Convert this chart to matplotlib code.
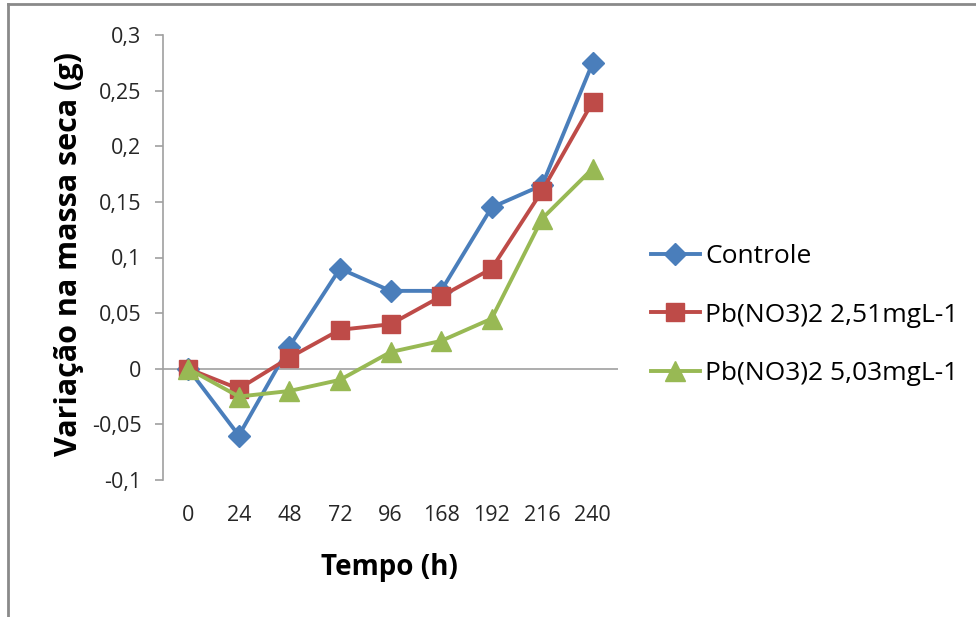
import matplotlib
matplotlib.use("Agg")
import matplotlib.pyplot as plt
from matplotlib.lines import Line2D
import numpy as np

categories = ["0", "24", "48", "72", "96", "168", "192", "216", "240"]
controle = [0.0, -0.06, 0.02, 0.09, 0.07, 0.07, 0.145, 0.165, 0.275]
pb_251 = [0.0, -0.018, 0.01, 0.035, 0.04, 0.065, 0.09, 0.16, 0.24]
pb_503 = [0.0, -0.025, -0.02, -0.01, 0.015, 0.025, 0.045, 0.135, 0.18]
series_names = ["Controle", "Pb(NO3)2 2,51mgL-1", "Pb(NO3)2 5,03mgL-1"]
yticks = [-0.1, -0.05, 0, 0.05, 0.1, 0.15, 0.2, 0.25, 0.3]
ytick_labels = ["-0,1", "-0,05", "0", "0,05", "0,1", "0,15", "0,2", "0,25", "0,3"]

colors = ["#4A7EBB", "#BE4B48", "#98B954"]
markers = ["D", "s", "^"]
msizes = [11, 13, 14]

FONT = ["Open Sans", "DejaVu Sans"]

W, H = 976, 617
fig = plt.figure(figsize=(W / 100, H / 100), dpi=100)

# outer border
fig.add_artist(Line2D([8 / W, 8 / W], [0, 1 - 4 / H], color="#8a8a8a", lw=2, transform=fig.transFigure))
fig.add_artist(Line2D([8 / W, 975 / W], [1 - 4 / H, 1 - 4 / H], color="#8a8a8a", lw=2, transform=fig.transFigure))

left, right = 163 / W, 618 / W
top, bottom = 1 - 35 / H, 1 - 480 / H
ax = fig.add_axes([left, bottom, right - left, top - bottom])

x = np.arange(len(categories))
for vals, c, m, ms, name in zip([controle, pb_251, pb_503], colors, markers, msizes, series_names):
    ax.plot(x, vals, color=c, lw=2.8, marker=m, markersize=ms, label=name, zorder=3)

ax.axhline(0, color="#a0a0a0", lw=1.2, zorder=1)
ax.set_xlim(-0.5, len(categories) - 0.5)
ax.set_ylim(-0.1, 0.3)
ax.set_yticks(yticks)
ax.set_yticklabels(ytick_labels)
ax.set_xticks(x)
ax.set_xticklabels(categories)

for s in ["top", "right", "bottom"]:
    ax.spines[s].set_visible(False)
ax.spines["left"].set_color("#a0a0a0")
ax.spines["left"].set_linewidth(1.2)

ax.tick_params(axis="y", direction="out", length=6, color="#a0a0a0", width=1.2, pad=9.5,
               labelsize=15.5, labelcolor="#262626")
ax.tick_params(axis="x", length=0, pad=18, labelsize=15.5, labelcolor="#262626")
for lab in ax.get_xticklabels() + ax.get_yticklabels():
    lab.set_fontfamily(FONT)

fig.text(69 / W, 1 - 254 / H, "Variação na massa seca (g)", rotation=90, ha="center", va="center",
         fontsize=22, fontweight="bold", family=FONT)
fig.text(389 / W, 1 - 568 / H, "Tempo (h)", ha="center", va="center",
         fontsize=20, fontweight="bold", family=FONT)

leg = fig.legend(loc="upper left", bbox_to_anchor=(651 / W, 1 - 244 / H), frameon=False,
                 prop={"family": FONT, "size": 19},
                 handlelength=1.85, handletextpad=0.2, labelspacing=1.27,
                 borderaxespad=0, borderpad=0)

fig.savefig("out.png", dpi=100)
